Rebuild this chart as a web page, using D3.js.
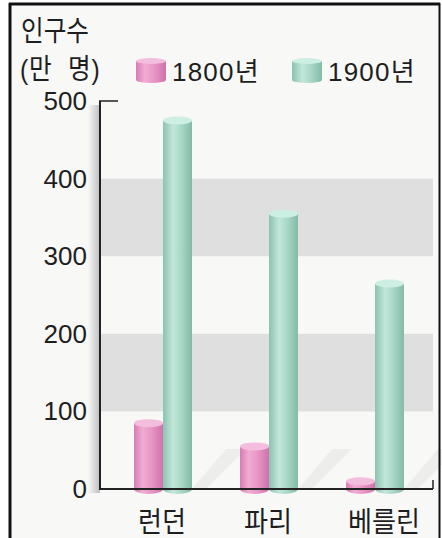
<!DOCTYPE html>
<html>
<head>
<meta charset="utf-8">
<script src="https://cdn.jsdelivr.net/npm/d3@7/dist/d3.min.js"></script>
<style>
  html, body { margin: 0; padding: 0; background: #ffffff; }
  svg { display: block; }
  text { font-family: "Liberation Sans", "Noto Sans CJK KR", sans-serif; fill: #1e1e1e; }
</style>
</head>
<body>
<svg id="chart" width="442" height="538"></svg>
<script>
// ---- data ----
const categories = ["런던", "파리", "베를린"];
const seriesNames = ["1800년", "1900년"];
const values1800 = [90, 60, 15];
const values1900 = [480, 360, 270];
const yTicks = [0, 100, 200, 300, 400, 500];
const bandRanges = [[100, 200], [300, 400]];
const titleLines = ["인구수", "(만  명)"];

const svg = d3.select("#chart");
const W = 442, H = 538;

// background + frame
svg.append("rect").attr("x", 0).attr("y", 0).attr("width", W).attr("height", H).attr("fill", "#ffffff");
svg.append("rect").attr("x", 10).attr("y", 4).attr("width", 429).attr("height", H).attr("fill", "#f8f8f7");

const defs = svg.append("defs");
function hGrad(id, stops) {
  const g = defs.append("linearGradient").attr("id", id).attr("x1", "0%").attr("x2", "100%").attr("y1", "0%").attr("y2", "0%");
  stops.forEach(s => g.append("stop").attr("offset", s[0]).attr("stop-color", s[1]));
}
hGrad("gPink", [["0%", "#d77cb2"], ["30%", "#f0acd3"], ["60%", "#e896c6"], ["100%", "#cf72aa"]]);
hGrad("gGreen", [["0%", "#8cc3b0"], ["35%", "#c2e7da"], ["65%", "#a6d6c5"], ["100%", "#84baa6"]]);
hGrad("gAxisShadow", [["0%", "rgba(120,120,130,0)"], ["100%", "rgba(120,120,130,0.45)"]]);

const fills = { "1800년": "url(#gPink)", "1900년": "url(#gGreen)" };
const tops = { "1800년": "#f3bedd", "1900년": "#cdeee2" };

// scales
const x0 = d3.scaleBand().domain(categories).range([110, 428]).padding(0);
const x1 = d3.scaleBand().domain(seriesNames).range([0, 58]).padding(0);
const y = d3.scaleLinear().domain([0, 500]).range([489, 101]);

const plotRight = 433;

// gray bands
svg.append("g").selectAll("rect").data(bandRanges).join("rect")
  .attr("x", 100).attr("width", plotRight - 100)
  .attr("y", d => y(d[1])).attr("height", d => y(d[0]) - y(d[1]))
  .attr("fill", "#dfdfdf");

// axis shadow
svg.append("rect").attr("x", 88).attr("y", y(500) + 4).attr("width", 12).attr("height", y(0) - y(500))
  .attr("fill", "url(#gAxisShadow)");

// data table
const rows = categories.map((c, i) => ({ cat: c, vals: [{ s: "1800년", v: values1800[i] }, { s: "1900년", v: values1900[i] }] }));

const groups = svg.append("g").selectAll("g").data(rows).join("g")
  .attr("transform", d => `translate(${x0(d.cat) + x0.bandwidth() / 2 - 29},0)`);

// cast shadows (diagonal, faint)
groups.append("path")
  .attr("d", d => {
    const xr = x1("1900년") + x1.bandwidth();
    const L = 40;
    return `M${xr},${y(0)} L${xr + 14},${y(0)} L${xr + 14 + L},${y(0) - L} L${xr + L - 6},${y(0) - L} Z`;
  })
  .attr("fill", "rgba(0,0,0,0.045)");

const ry = 4;
const bars = groups.selectAll("g.bar").data(d => d.vals).join("g").attr("class", "bar");
bars.append("rect")
  .attr("x", d => x1(d.s))
  .attr("width", x1.bandwidth())
  .attr("y", d => y(d.v) + ry)
  .attr("height", d => Math.max(0, y(0) - y(d.v) - ry))
  .attr("fill", d => fills[d.s]);
bars.append("ellipse")
  .attr("cx", d => x1(d.s) + x1.bandwidth() / 2)
  .attr("cy", y(0))
  .attr("rx", x1.bandwidth() / 2).attr("ry", ry + 1)
  .attr("fill", d => fills[d.s]);
bars.append("ellipse")
  .attr("cx", d => x1(d.s) + x1.bandwidth() / 2)
  .attr("cy", d => y(d.v) + ry)
  .attr("rx", x1.bandwidth() / 2).attr("ry", ry)
  .attr("fill", d => tops[d.s]);

// axes
const axisColor = "#222";
svg.append("line").attr("x1", 100).attr("x2", 100).attr("y1", y(500)).attr("y2", y(0))
  .attr("stroke", axisColor).attr("stroke-width", 2);
svg.append("line").attr("x1", 99).attr("x2", 118).attr("y1", y(500)).attr("y2", y(500))
  .attr("stroke", axisColor).attr("stroke-width", 1.5);
svg.append("line").attr("x1", 99).attr("x2", plotRight).attr("y1", y(0)).attr("y2", y(0))
  .attr("stroke", axisColor).attr("stroke-width", 2);
svg.append("line").attr("x1", plotRight).attr("x2", plotRight).attr("y1", y(0)).attr("y2", y(0) - 9)
  .attr("stroke", axisColor).attr("stroke-width", 1.5);

// tick labels
svg.append("g").selectAll("text").data(yTicks).join("text")
  .attr("x", 87).attr("y", d => y(d) + 9)
  .attr("text-anchor", "end").attr("font-size", 26)
  .text(d => d);

// category labels
svg.append("g").selectAll("text").data(categories).join("text")
  .attr("transform", (d, i) => `translate(${x0(d) + x0.bandwidth() / 2 + (i === 2 ? 9 : -1)},532) scale(0.9,1)`)
  .attr("text-anchor", "middle").attr("font-size", 29)
  .text(d => d);

// title
svg.append("text").attr("transform", "translate(21,41) scale(0.88,1)").attr("font-size", 28).text(titleLines[0]);
svg.append("text").attr("transform", "translate(20,79) scale(0.88,1)").attr("font-size", 28).attr("letter-spacing", 1)
  .attr("xml:space", "preserve").style("white-space", "pre").text(titleLines[1]);

// legend
const legendX = [136, 292];
const lg = svg.append("g").selectAll("g").data(seriesNames).join("g")
  .attr("transform", (d, i) => `translate(${legendX[i]},0)`);
lg.append("rect").attr("x", 0).attr("y", 61).attr("width", 30).attr("height", 19).attr("fill", d => fills[d]);
lg.append("ellipse").attr("cx", 15).attr("cy", 80).attr("rx", 15).attr("ry", 3).attr("fill", d => fills[d]);
lg.append("ellipse").attr("cx", 15).attr("cy", 61).attr("rx", 15).attr("ry", 3).attr("fill", d => tops[d]);
lg.append("text").attr("x", 36).attr("y", 81).attr("font-size", 26).attr("letter-spacing", 1.2).text(d => d);

// frame lines
svg.append("line").attr("x1", 10).attr("x2", 10).attr("y1", 3).attr("y2", H).attr("stroke", "#111").attr("stroke-width", 3);
svg.append("line").attr("x1", 9).attr("x2", 440).attr("y1", 4).attr("y2", 4).attr("stroke", "#111").attr("stroke-width", 3);
svg.append("line").attr("x1", 439.5).attr("x2", 439.5).attr("y1", 3).attr("y2", H).attr("stroke", "#111").attr("stroke-width", 2);
</script>
</body>
</html>
